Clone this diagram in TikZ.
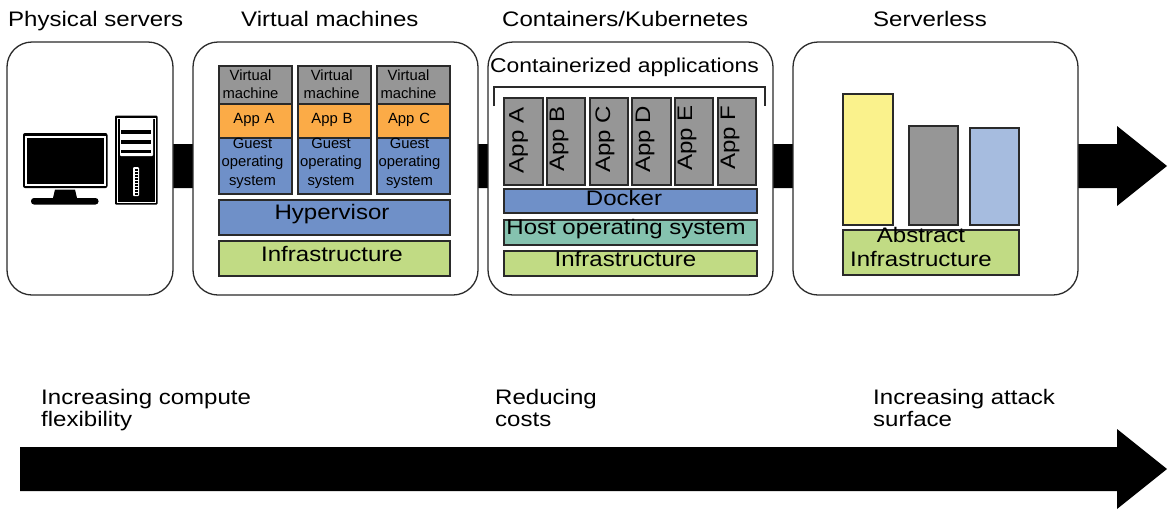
\documentclass[tikz,border=0pt]{standalone}
\usepackage{fontspec}
\setmainfont[FakeStretch=1.145]{Liberation Sans}
\newfontfamily\smallfont{Liberation Sans}
\definecolor{vmgray}{HTML}{969696}
\definecolor{apporange}{HTML}{FBAB47}
\definecolor{osblue}{HTML}{6F90C8}
\definecolor{infragreen}{HTML}{C1DB84}
\definecolor{hostteal}{HTML}{85C2AF}
\definecolor{fnyellow}{HTML}{FAF28C}
\definecolor{fnblue}{HTML}{A6BCDF}
\definecolor{edge}{HTML}{2A2A2A}
\newcommand{\fs}[2]{\fontsize{#1}{#2}\selectfont}
\tikzset{
 x=1pt,y=-1pt,
 panel/.style={draw=edge,line width=1.3pt,fill=white,rounded corners=25pt},
 cell/.style={draw=edge,line width=1.2pt},
 lab/.style={inner sep=0,font=\fs{21}{22},align=left,anchor=base west},
 head/.style={inner sep=0,font=\fs{21}{22},anchor=base west},
 small/.style={inner sep=0,font=\smallfont\fs{14.8}{18.5},align=center,text width=72pt,anchor=base},
 mid/.style={inner sep=0,font=\fs{21}{23.3},align=center,anchor=base},
 applabel/.style={inner sep=0,font=\fs{21}{22},rotate=90,anchor=base west},
 bigarrow/.style={fill=black},
}
\begin{document}
\begin{tikzpicture}
\useasboundingbox (0,0) rectangle (1175,515);
% arrows
\fill[bigarrow] (173,144) -- (1117,144) -- (1117,126) -- (1167,166) -- (1117,206) -- (1117,188) -- (173,188) -- cycle;
\fill[bigarrow] (20,447) -- (1117,447) -- (1117,429) -- (1167,469) -- (1117,509) -- (1117,491) -- (20,491) -- cycle;
% headings
\node[head] (h1) at (8,26) {Physical servers};
\node[head] (h2) at (241,26) {Virtual machines};
\node[head] (h3) at (502,26) {Containers/Kubernetes};
\node[head] (h4) at (873,26) {Serverless};
% panels
\draw[panel] (7,42) rectangle (173,295);
\draw[panel] (193,42) rectangle (478,295);
\draw[panel] (488,42) rectangle (773,295);
\draw[panel] (793,42) rectangle (1078,295);
% monitor
\fill[black,rounded corners=2pt] (23,133) rectangle (107.5,188);
\draw[white,line width=1.5pt] (26,137) rectangle (105,185);
\fill[black] (55,189.5) -- (75,189.5) -- (77,198) -- (53,198) -- cycle;
\fill[black,rounded corners=3pt] (31,198) rectangle (98.5,204.5);
% tower
\fill[black,rounded corners=1pt] (115,115.5) rectangle (157.5,204.5);
\draw[white,line width=1pt] (117.5,118) rectangle (155.5,202.5);
\fill[white,rounded corners=1pt] (120,118) rectangle (153,156);
\fill[black] (121,130) rectangle (151,134);
\fill[black] (121,140) rectangle (151,143.5);
\fill[black] (121,149.5) rectangle (151,153);
\fill[white,rounded corners=1pt] (133,167) rectangle (139,196);
\foreach \yy in {169,172,...,193} \fill[black] (134.5,\yy) rectangle (137.5,\yy+1.5);
% VM columns
\foreach \xa/\xb in {219/292,298/371,377/450}{
 \draw[cell,fill=vmgray] (\xa,66) rectangle (\xb,104);
 \draw[cell,fill=apporange] (\xa,104) rectangle (\xb,138);
 \draw[cell,fill=osblue] (\xa,138) rectangle (\xb,194);
}
\node[small] (va) at (250.5,80) {Virtual\\machine};
\node[small] (vb) at (331.7,80) {Virtual\\machine};
\node[small] (vc) at (408.5,80) {Virtual\\machine};
\node[small] (aa) at (254,123) {App A};
\node[small] (ab) at (332,123) {App B};
\node[small] (ac) at (409,123) {App C};
\node[small] (ga) at (252.5,148) {Guest\\operating\\system};
\node[small] (gb) at (331,148) {Guest\\operating\\system};
\node[small] (gc) at (409.5,148) {Guest\\operating\\system};
\draw[cell,fill=osblue] (219,200) rectangle (450,235);
\node[mid] (hv) at (332,219) {Hypervisor};
\draw[cell,fill=infragreen] (219,241) rectangle (450,276);
\node[mid] (i1) at (332,261) {Infrastructure};
% containers
\node[mid,font=\fs{20}{22}] (ca) at (624.5,72.5) {Containerized applications};
\draw[line width=2pt,draw=edge] (494,106) -- (494,87) -- (765,87) -- (765,106);
\foreach \xa/\xb in {504/543,547/585,590/628,632/671,675/713,718/756}
 \draw[cell,fill=vmgray] (\xa,98) rectangle (\xb,185);
\node[applabel] (pa) at (523.5,173.3) {App A};
\node[applabel] (pb) at (564,171.7) {App B};
\node[applabel] (pc) at (610,172.7) {App C};
\node[applabel] (pd) at (650,172.7) {App D};
\node[applabel] (pe) at (692,170.7) {App E};
\node[applabel] (pf) at (735,170) {App F};
\draw[cell,fill=osblue] (504,189) rectangle (757,213);
\node[mid] (dk) at (624,205.7) {Docker};
\draw[cell,fill=hostteal] (504,220) rectangle (757,245);
\node[mid] (ho) at (626,234) {Host operating system};
\draw[cell,fill=infragreen] (504,251) rectangle (757,276);
\node[mid] (i2) at (625.5,266) {Infrastructure};
% serverless
\draw[cell,fill=fnyellow] (843,94) rectangle (893,225);
\draw[cell,fill=vmgray] (909,126) rectangle (958,225);
\draw[cell,fill=fnblue] (970,128) rectangle (1019,225);
\draw[cell,fill=infragreen] (843,230) rectangle (1019,275);
\node[mid] (ab2) at (921,266) {Abstract\\Infrastructure};
% bottom labels
\node[lab] (b1) at (41,426) {Increasing compute\\flexibility};
\node[lab] (b2) at (495,426) {Reducing\\costs};
\node[lab] (b3) at (873,426) {Increasing attack\\surface};
\end{tikzpicture}
\end{document}
